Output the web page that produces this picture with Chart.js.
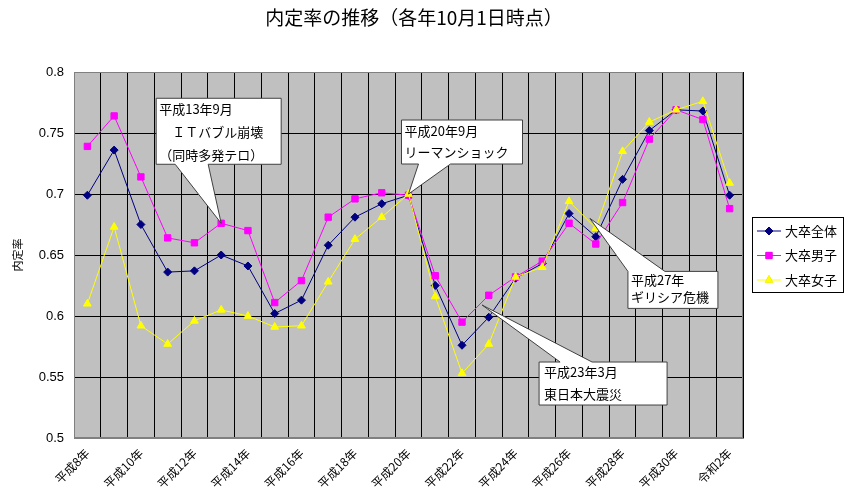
<!DOCTYPE html>
<html lang="ja">
<head>
<meta charset="utf-8">
<title>内定率の推移</title>
<script src="https://cdn.jsdelivr.net/npm/chart.js@4.4.1/dist/chart.umd.min.js"></script>
<style>
    html, body { margin: 0; padding: 0; background: #fff; }
    #wrap { width: 849px; height: 502px; }
</style>
</head>
<body>
<div id="wrap"><canvas id="rateChart" width="849" height="502"></canvas></div>
<script>
// Categories (平成8年 = 1996 ... 令和2年 = 2020)
const years = [
    '平成8年', '平成9年', '平成10年', '平成11年', '平成12年', '平成13年', '平成14年',
    '平成15年', '平成16年', '平成17年', '平成18年', '平成19年', '平成20年', '平成21年',
    '平成22年', '平成23年', '平成24年', '平成25年', '平成26年', '平成27年', '平成28年',
    '平成29年', '平成30年', '令和元年', '令和2年'
];

// Series values
const totalRate = [0.699, 0.736, 0.675, 0.636, 0.637, 0.650, 0.641, 0.602, 0.613, 0.658, 0.681, 0.692, 0.699,
                   0.625, 0.576, 0.599, 0.631, 0.643, 0.684, 0.665, 0.712, 0.752, 0.769, 0.768, 0.699];
const maleRate = [0.739, 0.764, 0.714, 0.664, 0.660, 0.676, 0.670, 0.611, 0.629, 0.681, 0.696, 0.701, 0.699,
                  0.633, 0.595, 0.617, 0.632, 0.645, 0.676, 0.659, 0.693, 0.745, 0.769, 0.761, 0.688];
const femaleRate = [0.610, 0.673, 0.592, 0.577, 0.596, 0.605, 0.600, 0.591, 0.592, 0.628, 0.663, 0.681, 0.700,
                    0.616, 0.553, 0.577, 0.632, 0.640, 0.694, 0.672, 0.735, 0.759, 0.769, 0.776, 0.709];

const seriesNames = ['大卒全体', '大卒男子', '大卒女子'];
const yTicks = [0.5, 0.55, 0.6, 0.65, 0.7, 0.75, 0.8];

// Callout texts and the point (category index, value) each one points at
const noteTexts = [
    ['平成13年9月', '　ＩＴバブル崩壊', '（同時多発テロ）'],
    ['平成20年9月', 'リーマンショック'],
    ['平成27年', 'ギリシア危機'],
    ['平成23年3月', '東日本大震災']
];
const noteAnchors = [[5, 0.676], [12, 0.700], [18.78, 0.680], [14.75, 0.609]];

const FONT = '"Noto Sans CJK JP", "Noto Sans", sans-serif';
const colors = ['#000080', '#FF00FF', '#FFFF00'];
const markers = ['rectRot', 'rect', 'triangle'];

// box offsets from the tip: [left, top, right, bottom], tail edge, tail base x offsets, text pad, line height
const noteLayout = [
    { box: [-65, -125, 60, -59], edge: 'bottom', base: [-46, -13], padX: 3, padY: 11, lh: 23 },
    { box: [-7, -74, 114, -30], edge: 'bottom', base: [10, 42], padX: 3, padY: 11, lh: 21 },
    { box: [38, 53, 128, 90], edge: 'top', base: [38, 75], padX: 3, padY: 9, lh: 17 },
    { box: [57, 57, 185, 100], edge: 'top', base: [78, 110], padX: 5, padY: 10, lh: 22 }
];

const chartDecor = {
    id: 'chartDecor',
    beforeDraw(chart) {
        const ctx = chart.ctx, a = chart.chartArea;
        ctx.save();
        ctx.fillStyle = '#fff';
        ctx.fillRect(0, 0, chart.width, chart.height);
        ctx.fillStyle = '#C0C0C0';
        ctx.fillRect(a.left, a.top, a.right - a.left, a.bottom - a.top);
        ctx.restore();
    },
    beforeDatasetsDraw(chart) {
        const ctx = chart.ctx, a = chart.chartArea;
        ctx.save();
        ctx.strokeStyle = '#808080';
        ctx.lineWidth = 1;
        ctx.strokeRect(a.left + 0.5, a.top + 0.5, a.right - a.left - 1, a.bottom - a.top - 1);
        ctx.restore();
    },
    afterDatasetsDraw(chart) {
        const ctx = chart.ctx;
        const xs = chart.scales.x, ys = chart.scales.y;
        ctx.save();

        // title
        ctx.fillStyle = '#000';
        ctx.font = '19px ' + FONT;
        ctx.textAlign = 'center';
        ctx.textBaseline = 'middle';
        ctx.fillText('内定率の推移（各年10月1日時点）', 414, 18);

        // callouts
        noteTexts.forEach((lines, i) => {
            const L = noteLayout[i];
            const tx = xs.getPixelForValue(noteAnchors[i][0]);
            const ty = ys.getPixelForValue(noteAnchors[i][1]);
            const l = tx + L.box[0], t = ty + L.box[1], r = tx + L.box[2], b = ty + L.box[3];
            ctx.beginPath();
            if (L.edge === 'bottom') {
                ctx.moveTo(l, t); ctx.lineTo(r, t); ctx.lineTo(r, b);
                ctx.lineTo(tx + L.base[1], b); ctx.lineTo(tx, ty); ctx.lineTo(tx + L.base[0], b);
                ctx.lineTo(l, b);
            } else {
                ctx.moveTo(l, t); ctx.lineTo(tx + L.base[0], t); ctx.lineTo(tx, ty);
                ctx.lineTo(tx + L.base[1], t); ctx.lineTo(r, t); ctx.lineTo(r, b); ctx.lineTo(l, b);
            }
            ctx.closePath();
            ctx.fillStyle = '#fff';
            ctx.fill();
            ctx.strokeStyle = '#404040';
            ctx.lineWidth = 1;
            ctx.stroke();

            ctx.fillStyle = '#000';
            ctx.font = '13px ' + FONT;
            ctx.textAlign = 'left';
            ctx.textBaseline = 'middle';
            lines.forEach((s, k) => ctx.fillText(s, l + L.padX, t + L.padY + k * L.lh));
        });

        // legend
        const lx = 752, ly = 217, lw = 91, lh = 75;
        ctx.fillStyle = '#fff';
        ctx.fillRect(lx, ly, lw, lh);
        ctx.strokeStyle = '#000';
        ctx.strokeRect(lx + 0.5, ly + 0.5, lw, lh);
        seriesNames.forEach((name, i) => {
            const y = ly + 14 + i * 24.5;
            ctx.strokeStyle = colors[i];
            ctx.lineWidth = 1;
            ctx.beginPath();
            ctx.moveTo(lx + 5, y);
            ctx.lineTo(lx + 29, y);
            ctx.stroke();
            const ds = chart.data.datasets[i];
            Chart.helpers.drawPoint(ctx, {
                pointStyle: ds.pointStyle, radius: ds.pointRadius, borderWidth: 1, rotation: 0
            }, lx + 17, y);
            ctx.fillStyle = colors[i];
            ctx.fill();
            ctx.fillStyle = '#000';
            ctx.font = '13px ' + FONT;
            ctx.textAlign = 'left';
            ctx.textBaseline = 'middle';
            ctx.fillText(name, lx + 33, y);
        });
        ctx.restore();
    }
};

function makeSet(i, values) {
    return {
        label: seriesNames[i],
        data: values,
        borderColor: colors[i],
        backgroundColor: colors[i],
        borderWidth: 1,
        pointStyle: markers[i],
        pointRadius: i === 0 ? 4 : 4.5,
        pointBorderWidth: 1,
        tension: 0,
        order: 2 - i
    };
}

new Chart(document.getElementById('rateChart'), {
    type: 'line',
    data: {
        labels: years,
        datasets: [makeSet(0, totalRate), makeSet(1, maleRate), makeSet(2, femaleRate)]
    },
    options: {
        responsive: false,
        animation: false,
        devicePixelRatio: 1,
        layout: { padding: { top: 72, right: 106, bottom: 0, left: 0 } },
        plugins: {
            legend: { display: false },
            tooltip: { enabled: false },
            title: { display: false }
        },
        scales: {
            x: {
                type: 'category',
                offset: true,
                grid: { offset: true, color: '#000', lineWidth: 1, drawTicks: false },
                border: { color: '#808080' },
                ticks: {
                    autoSkip: false,
                    maxRotation: 45,
                    minRotation: 45,
                    padding: 8,
                    color: '#000',
                    font: { family: FONT, size: 12 },
                    callback: function (v, i) { return i % 2 === 0 ? this.getLabelForValue(v) : ''; }
                },
                afterFit: s => { s.height = 64; }
            },
            y: {
                min: yTicks[0],
                max: yTicks[yTicks.length - 1],
                afterBuildTicks: s => { s.ticks = yTicks.map(v => ({ value: v })); },
                grid: { color: '#000', lineWidth: 1, drawTicks: false },
                border: { color: '#808080' },
                ticks: {
                    padding: 10,
                    color: '#000',
                    font: { family: '"Liberation Sans", Arial, sans-serif', size: 13 },
                    callback: v => String(v)
                },
                title: {
                    display: true,
                    text: '内定率',
                    color: '#000',
                    font: { family: FONT, size: 11 },
                    padding: { top: 11, bottom: 0 }
                },
                afterFit: s => { s.width = 74; }
            }
        }
    },
    plugins: [chartDecor]
});
</script>
</body>
</html>
